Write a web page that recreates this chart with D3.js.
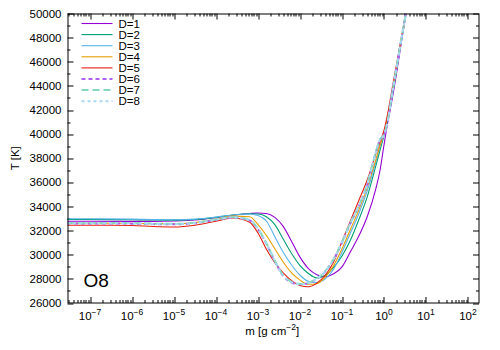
<!DOCTYPE html>
<html lang="en">
<head>
<meta charset="UTF-8" />
<title>O8 temperature structure</title>
<style>
  body { margin: 0; background: #fff; }
  text { font-family: "Liberation Sans", Arial, sans-serif; fill: #000; }
</style>
</head>
<body>
<svg width="500" height="350"></svg>
<script src="https://d3js.org/d3.v7.min.js"></script>
<script>
// log10 of column mass m [g cm^-2]
var logM = [-7.55, -7, -6, -5.5, -5, -4.5, -4, -3.6, -3.2, -3, -2.8, -2.6, -2.4, -2.2, -2, -1.8,
            -1.6, -1.4, -1.2, -1, -0.8, -0.6, -0.4, -0.2, -0.1, 0, 0.1, 0.2, 0.4, 0.55];

// temperature T [K] for each D
var tD1 = [32780, 32780, 32770, 32770, 32800, 32880, 33080, 33280, 33420, 33460, 33420, 33100, 32350, 31100, 29800, 28850,
           28350, 28170, 28420, 29000, 30250, 31550, 33150, 35400, 36900, 39100, 41200, 43000, 47300, 50600];
var tD2 = [32920, 32920, 32900, 32880, 32870, 32920, 33100, 33300, 33400, 33380, 33150, 32500, 31300, 30100, 29100, 28450,
           28080, 28300, 28950, 29900, 31200, 32900, 34800, 37300, 38600, 39900, 41500, 43300, 47500, 50700];
var tD3 = [32980, 32980, 32950, 32920, 32900, 32950, 33120, 33300, 33380, 33250, 32800, 31500, 30200, 29150, 28300, 27800,
           27700, 28000, 28800, 30200, 31800, 33400, 35300, 37600, 38900, 40000, 41600, 43400, 47500, 50600];
var tD4 = [32620, 32620, 32600, 32580, 32580, 32680, 32950, 33200, 33150, 32500, 31600, 30500, 29400, 28500, 27900, 27550,
           27600, 28150, 29100, 30500, 32100, 33700, 35600, 37800, 39000, 40100, 41700, 43500, 47600, 50600];
var tD5 = [32450, 32450, 32430, 32340, 32300, 32450, 32780, 33050, 32700, 31800, 30450, 29350, 28500, 27850, 27450, 27350,
           27650, 28300, 29400, 31100, 32800, 34500, 36200, 38300, 39300, 40300, 41900, 43900, 47700, 50600];
var tD6 = [32600, 32600, 32580, 32540, 32530, 32620, 32900, 33100, 32850, 32100, 30900, 29450, 28250, 27700, 27550, 27650,
           28000, 28600, 29600, 31000, 32600, 34000, 35800, 38400, 39500, 39900, 41300, 43500, 47600, 50600];
var tD7 = [32640, 32640, 32620, 32580, 32560, 32650, 32920, 33120, 32870, 32150, 30950, 29500, 28300, 27750, 27580, 27680,
           28030, 28650, 29650, 31050, 32650, 34050, 35850, 38450, 39550, 39950, 41350, 43500, 47600, 50600];
var tD8 = [32620, 32620, 32600, 32560, 32540, 32630, 32910, 33110, 32860, 32120, 30920, 29480, 28280, 27720, 27560, 27660,
           28010, 28620, 29620, 31020, 32620, 34020, 35820, 38420, 39520, 39920, 41320, 43500, 47600, 50600];

var labels = ["D=1", "D=2", "D=3", "D=4", "D=5", "D=6", "D=7", "D=8"];
var temps = [tD1, tD2, tD3, tD4, tD5, tD6, tD7, tD8];
var colors = ["#9400d3", "#009e73", "#56b4e9", "#e69f00", "#e51e10", "#b060ee", "#86d8bc", "#a8d8f2"];
var dashes = [null, null, null, null, null, "4,3", "7,4", "3,3"];
var widths = [1.1, 1.1, 1.1, 1.1, 1.1, 2, 2, 2];

var xTickExp = [-7, -6, -5, -4, -3, -2, -1, 0, 1, 2];
var yTicks = d3.range(26000, 50001, 2000);

var svg = d3.select("svg"),
    margin = {top: 13.5, right: 21, bottom: 47, left: 67.5},
    width = 500 - margin.left - margin.right,
    height = 350 - margin.top - margin.bottom,
    g = svg.append("g").attr("transform", "translate(" + margin.left + "," + margin.top + ")");

var x = d3.scaleLog()
    .domain([Math.pow(10, -7.536), Math.pow(10, 2.262)])
    .range([0, width]);

var y = d3.scaleLinear()
    .domain([26000, 50000])
    .range([height, 0]);

// clip
g.append("clipPath").attr("id", "clip")
  .append("rect").attr("width", width).attr("height", height);

// minor x ticks (2..9 each decade)
var xMinor = [];
for (var e = -8; e <= 2; e++) {
  for (var k = 2; k <= 9; k++) {
    var v = k * Math.pow(10, e);
    if (v > x.domain()[0] && v < x.domain()[1]) xMinor.push(v);
  }
}
var yMinor = d3.range(27000, 50000, 2000);

var ticks = g.append("g").attr("stroke", "#000").attr("stroke-width", 1);
xTickExp.forEach(function(ex) {
  var px = Math.round(x(Math.pow(10, ex))) + 0.5;
  ticks.append("line").attr("x1", px).attr("x2", px).attr("y1", height).attr("y2", height - 6);
  ticks.append("line").attr("x1", px).attr("x2", px).attr("y1", 0).attr("y2", 6);
});
xMinor.forEach(function(v) {
  var px = Math.round(x(v)) + 0.5;
  ticks.append("line").attr("x1", px).attr("x2", px).attr("y1", height).attr("y2", height - 3);
  ticks.append("line").attr("x1", px).attr("x2", px).attr("y1", 0).attr("y2", 3);
});
yTicks.forEach(function(t) {
  var py = Math.round(y(t)) + 0.5;
  ticks.append("line").attr("x1", 0).attr("x2", 6).attr("y1", py).attr("y2", py);
  ticks.append("line").attr("x1", width).attr("x2", width - 6).attr("y1", py).attr("y2", py);
});
yMinor.forEach(function(t) {
  var py = Math.round(y(t)) + 0.5;
  ticks.append("line").attr("x1", 0).attr("x2", 3).attr("y1", py).attr("y2", py);
  ticks.append("line").attr("x1", width).attr("x2", width - 3).attr("y1", py).attr("y2", py);
});

// tick labels
g.append("g").selectAll("text")
  .data(yTicks)
  .enter().append("text")
  .attr("x", -6)
  .attr("y", function(d) { return y(d); })
  .attr("dy", "0.35em")
  .attr("text-anchor", "end")
  .attr("font-size", "11.5px")
  .text(function(d) { return d; });

var xl = g.append("g").selectAll("text")
  .data(xTickExp)
  .enter().append("text")
  .attr("x", function(d) { return x(Math.pow(10, d)); })
  .attr("y", height + 17)
  .attr("text-anchor", "middle")
  .attr("font-size", "11.5px");
xl.append("tspan").text("10");
xl.append("tspan").attr("dy", -5).attr("font-size", "8.5px").text(function(d) { return d < 0 ? "\u2212" + (-d) : d; });

// curves
var line = d3.line()
  .x(function(d) { return x(Math.pow(10, d[0])); })
  .y(function(d) { return y(d[1]); })
  .curve(d3.curveMonotoneX);

var curves = g.append("g").attr("clip-path", "url(#clip)");
temps.forEach(function(tv, i) {
  curves.append("path")
    .datum(logM.map(function(lm, j) { return [lm, tv[j]]; }))
    .attr("fill", "none")
    .attr("stroke", colors[i])
    .attr("stroke-width", widths[i])
    .attr("stroke-dasharray", dashes[i])
    .attr("d", line);
});

// frame
g.append("rect")
  .attr("x", 0.5).attr("y", 0.5)
  .attr("width", width - 0.5).attr("height", height - 0.5)
  .attr("fill", "none").attr("stroke", "#000").attr("stroke-width", 1);

// legend
var legend = g.append("g").selectAll("g")
  .data(labels)
  .enter().append("g")
  .attr("transform", function(d, i) { return "translate(0," + (10 + i * 11.1) + ")"; });

legend.append("line")
  .attr("x1", 14).attr("x2", 45)
  .attr("stroke", function(d, i) { return colors[i]; })
  .attr("stroke-width", function(d, i) { return widths[i]; })
  .attr("stroke-dasharray", function(d, i) { return dashes[i]; });

legend.append("text")
  .attr("x", 51)
  .attr("dy", "0.35em")
  .attr("font-size", "11.5px")
  .text(function(d) { return d; });

// model label
g.append("text")
  .attr("x", 16).attr("y", height - 16)
  .attr("font-size", "19px")
  .text("O8");

// axis titles
var xt = g.append("text")
  .attr("x", width / 2 - 1)
  .attr("y", height + 32)
  .attr("text-anchor", "middle")
  .attr("font-size", "11.5px");
xt.append("tspan").text("m [g cm");
xt.append("tspan").attr("dy", -5).attr("font-size", "8.5px").text("\u22122");
xt.append("tspan").attr("dy", 5).text("]");

g.append("text")
  .attr("transform", "rotate(-90)")
  .attr("x", -height / 2)
  .attr("y", -49)
  .attr("text-anchor", "middle")
  .attr("font-size", "11.5px")
  .text("T [K]");
</script>
</body>
</html>
